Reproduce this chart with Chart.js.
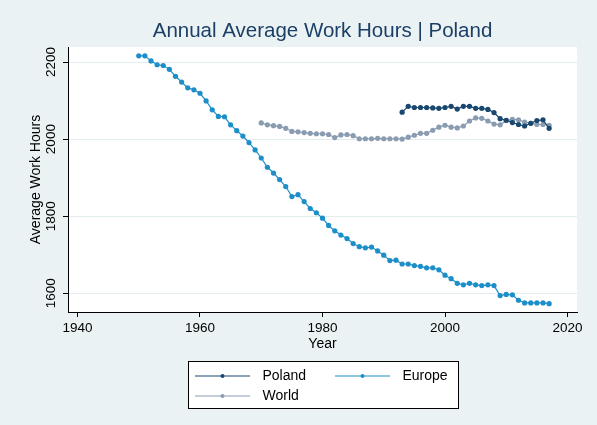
<!DOCTYPE html>
<html>
<head>
<meta charset="utf-8">
<script src="https://cdn.jsdelivr.net/npm/chart.js@4.4.1/dist/chart.umd.min.js"></script>
<style>
  body { margin: 0; background: #EAF2F3; }
  #wrap { width: 597px; height: 425px; }
</style>
</head>
<body>
<div id="wrap"><canvas id="myChart" width="597" height="425"></canvas></div>
<script>
// data
const years = [1950, 1951, 1952, 1953, 1954, 1955, 1956, 1957, 1958, 1959,
    1960, 1961, 1962, 1963, 1964, 1965, 1966, 1967, 1968, 1969,
    1970, 1971, 1972, 1973, 1974, 1975, 1976, 1977, 1978, 1979,
    1980, 1981, 1982, 1983, 1984, 1985, 1986, 1987, 1988, 1989,
    1990, 1991, 1992, 1993, 1994, 1995, 1996, 1997, 1998, 1999,
    2000, 2001, 2002, 2003, 2004, 2005, 2006, 2007, 2008, 2009,
    2010, 2011, 2012, 2013, 2014, 2015, 2016, 2017];

const europe = [2216, 2216, 2203, 2193, 2191, 2181, 2163, 2148, 2133, 2128,
    2119, 2099, 2076, 2059, 2058, 2037, 2022, 2008, 1991, 1972,
    1951, 1927, 1912, 1895, 1877, 1851, 1856, 1838, 1820, 1809,
    1795, 1776, 1762, 1751, 1742, 1729, 1721, 1718, 1720, 1710,
    1699, 1685, 1686, 1676, 1676, 1672, 1670, 1666, 1666, 1661,
    1647, 1638, 1626, 1622, 1626, 1622, 1620, 1622, 1620, 1594,
    1597, 1596, 1582, 1575, 1575, 1575, 1575, 1573];

// 1970 - 2017
const world = [2042, 2037, 2035, 2033, 2028, 2020, 2019, 2017, 2015, 2014,
    2014, 2012, 2004, 2011, 2012, 2009, 2001, 2001, 2001, 2002,
    2001, 2001, 2001, 2000, 2005, 2010, 2015, 2015, 2023, 2031,
    2036, 2031, 2029, 2034, 2047, 2055, 2054, 2047, 2039, 2037,
    2048, 2051, 2050, 2044, 2041, 2038, 2038, 2036];

// 1993 - 2017
const poland = [2070, 2085, 2082, 2082, 2082, 2081, 2080,
    2082, 2085, 2078, 2085, 2085, 2080, 2080, 2077, 2069, 2053,
    2049, 2043, 2038, 2034, 2041, 2048, 2050, 2028];

const xTicks = [1940, 1960, 1980, 2000, 2020],
    yTicks = [1600, 1800, 2000, 2200];

const colors = { poland: '#1A476F', europe: '#1C8FC9', world: '#8A9CB1' };

function toPoints(startYear, values) {
    const yrs = years.slice(years.indexOf(startYear));
    return values.map((v, i) => ({ x: yrs[i], y: v }));
}

function series(label, color, data) {
    return {
        label: label,
        data: data,
        borderColor: color,
        backgroundColor: color,
        pointBackgroundColor: color,
        pointBorderWidth: 0,
        pointRadius: 2.6,
        borderWidth: 1.2,
        tension: 0
    };
}

Chart.defaults.font.family = "'Liberation Sans', Arial, sans-serif";
Chart.defaults.color = '#000';

// white plot region
const plotBg = {
    id: 'plotBg',
    beforeDraw(chart) {
        const a = chart.chartArea, c = chart.ctx;
        c.save();
        c.fillStyle = '#fff';
        c.fillRect(a.left, a.top, a.right - a.left, a.bottom - a.top);
        c.restore();
    }
};

// boxed legend under the plot, two columns
const boxLegend = {
    id: 'boxLegend',
    afterDraw(chart) {
        const a = chart.chartArea, c = chart.ctx;
        const w = 270, h = 47;
        const left = Math.round((a.left + a.right) / 2 - w / 2), top = 361;
        c.save();
        c.fillStyle = '#fff';
        c.fillRect(left, top, w, h);
        c.strokeStyle = '#000';
        c.lineWidth = 1;
        c.strokeRect(left + 0.5, top + 0.5, w, h);
        const slots = [[7, 15], [147, 15], [7, 35]];
        c.font = "14px 'Liberation Sans', Arial, sans-serif";
        c.textBaseline = 'middle';
        chart.data.datasets.forEach((ds, i) => {
            const x = left + slots[i][0], y = top + slots[i][1];
            c.strokeStyle = ds.borderColor;
            c.lineWidth = 1.2;
            c.beginPath();
            c.moveTo(x, y);
            c.lineTo(x + 55, y);
            c.stroke();
            c.fillStyle = ds.borderColor;
            c.beginPath();
            c.arc(x + 27.5, y, 2, 0, Math.PI * 2);
            c.fill();
            c.fillStyle = '#000';
            c.fillText(ds.label, x + 67.5, y);
        });
        c.restore();
    }
};

const ctx = document.getElementById('myChart'),
    myChart = new Chart(ctx, {
        type: 'line',
        data: {
            datasets: [
                series('Poland', colors.poland, toPoints(1993, poland)),
                series('Europe', colors.europe, toPoints(1950, europe)),
                series('World', colors.world, toPoints(1970, world))
            ]
        },
        options: {
            responsive: false,
            animation: false,
            layout: { padding: { left: 0, right: 20, top: 0, bottom: 68 } },
            plugins: {
                legend: { display: false },
                tooltip: { enabled: false },
                title: {
                    display: true,
                    fullSize: false,
                    text: 'Annual Average Work Hours | Poland',
                    color: '#1B3F66',
                    font: { size: 20.5, weight: 'normal' },
                    padding: { top: 19, bottom: 3.4 }
                }
            },
            scales: {
                x: {
                    type: 'linear',
                    min: 1938.45,
                    max: 2021.55,
                    afterFit(s) { s.height = 45; },
                    afterBuildTicks(s) { s.ticks = xTicks.map(v => ({ value: v })); },
                    ticks: {
                        includeBounds: false,
                        maxRotation: 0,
                        padding: 3,
                        font: { size: 13.5 },
                        callback: v => String(v)
                    },
                    grid: { drawOnChartArea: false, tickLength: 5, tickColor: '#000' },
                    border: { color: '#000', width: 1 },
                    title: { display: true, text: 'Year', font: { size: 14 }, padding: { top: 0, bottom: 4 } }
                },
                y: {
                    min: 1551.5,
                    max: 2239,
                    afterFit(s) { s.width = 68; },
                    afterBuildTicks(s) { s.ticks = yTicks.map(v => ({ value: v })); },
                    ticks: {
                        includeBounds: false,
                        minRotation: 90,
                        maxRotation: 90,
                        crossAlign: 'center',
                        padding: -3,
                        font: { size: 13.5 },
                        callback: v => String(v)
                    },
                    grid: { color: '#E3ECEF', tickLength: 5, tickColor: '#000' },
                    border: { color: '#000', width: 1 },
                    title: { display: true, text: 'Average Work Hours', font: { size: 14 }, padding: { top: 28, bottom: 0 } }
                }
            }
        },
        plugins: [plotBg, boxLegend]
    });
</script>
</body>
</html>
